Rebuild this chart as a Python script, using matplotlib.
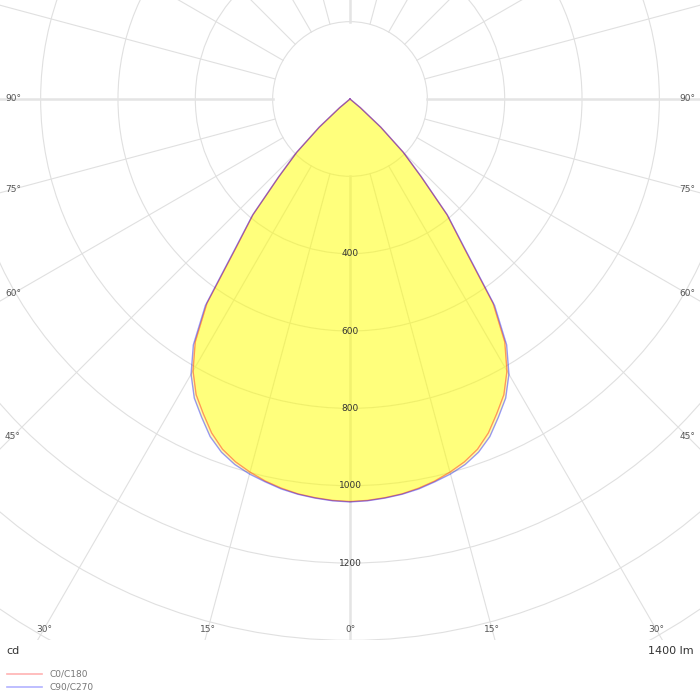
import numpy as np
import matplotlib
matplotlib.use("Agg")
import matplotlib.pyplot as plt
from matplotlib.patches import Circle
from matplotlib.lines import Line2D

# gamma angles (deg) and luminous intensity (cd)
gamma = [0, 2.5, 5, 7.5, 10, 12.5, 15, 17.5, 20, 22.5, 25, 27.5, 30, 32.5,
         35, 37.5, 40, 42.5, 45, 47.5, 50, 52.5, 55, 60, 65, 70, 75, 80, 85, 90]
c0_c180 = [1041, 1039, 1035, 1030, 1022, 1012, 999, 984, 964, 935, 898, 862,
           812, 745, 645, 483, 390, 272, 195, 108, 35, 0, 0, 0, 0, 0, 0, 0, 0, 0]
c90_c270 = [1042, 1040, 1036, 1031, 1024, 1014, 1004, 991, 972, 945, 908, 872,
            822, 754, 652, 488, 392, 273, 195, 108, 35, 0, 0, 0, 0, 0, 0, 0, 0, 0]

grid_radii = [200, 400, 600, 800, 1000, 1200, 1400, 1600, 1800]
radius_labels = [400, 600, 800, 1000, 1200]
angle_ticks = [0, 15, 30, 45, 60, 75, 90]
flux_text = "1400 lm"
unit_text = "cd"
series_names = ["C0/C180", "C90/C270"]
series_colors = ["#ff0000", "#0000ff"]

fig = plt.figure(figsize=(7, 7), dpi=100)
ax = fig.add_axes([0, 60 / 700, 1, 640 / 700])
ax.set_xlim(-905.1, 905.1)
ax.set_ylim(-1399.0, 256.0)
ax.axis("off")

grid_col = "#e0e0e0"

# circles
for r in grid_radii:
    ax.add_patch(Circle((0, 0), r, fill=False, edgecolor=grid_col, lw=0.8, zorder=1))

# radial lines (outside the 200 cd circle)
for a in range(0, 360, 15):
    t = np.radians(a)
    thick = a % 90 == 0
    ax.plot([200 * np.sin(t), 3000 * np.sin(t)], [-200 * np.cos(t), -3000 * np.cos(t)],
            color="#e4e4e4" if thick else grid_col, lw=1.8 if thick else 0.8, zorder=1)

# intensity curves
g = np.radians(gamma)
for vals, col in zip([c0_c180, c90_c270], series_colors):
    v = np.array(vals, dtype=float)
    xs = np.concatenate([-(v * np.sin(g))[::-1], (v * np.sin(g))[1:]])
    ys = np.concatenate([-(v * np.cos(g))[::-1], -(v * np.cos(g))[1:]])
    ax.fill(xs, ys, color="#ffff00", alpha=0.3, lw=0, zorder=2)
    ax.plot(xs, ys, color=col, alpha=0.4, lw=1.0, zorder=3)

# radius labels
for r in radius_labels:
    ax.text(0, -r, str(r), ha="center", va="center", fontsize=6.5, color="#333333", zorder=4)

# angle labels on the frame
xb = 871.5
yb = -1370.6
for a in angle_ticks:
    t = np.radians(a)
    for s in ([1] if a == 0 else [-1, 1]):
        if a == 90:
            px, py = s * xb, 0.0
        else:
            k = min(abs(yb) / np.cos(t), xb / np.sin(t) if a else 1e9)
            px, py = s * k * np.sin(t), -k * np.cos(t)
        ax.text(px, py, f"{a}°", ha="center", va="center", fontsize=6.5,
                color="#555555", zorder=4)

# bottom texts and legend
fig.text(6 / 700, 1 - 651 / 700, unit_text, ha="left", va="center", fontsize=8, color="#333333")
fig.text(694 / 700, 1 - 651 / 700, flux_text, ha="right", va="center", fontsize=8, color="#333333")
for i, (name, col) in enumerate(zip(series_names, series_colors)):
    yy = 1 - (674 + 13 * i) / 700
    fig.add_artist(Line2D([7 / 700, 42 / 700], [yy, yy], color=col, alpha=0.3, lw=1.2))
    fig.text(49 / 700, yy, name, ha="left", va="center", fontsize=6.5, color="#777777")

fig.savefig("out.png", dpi=100)
